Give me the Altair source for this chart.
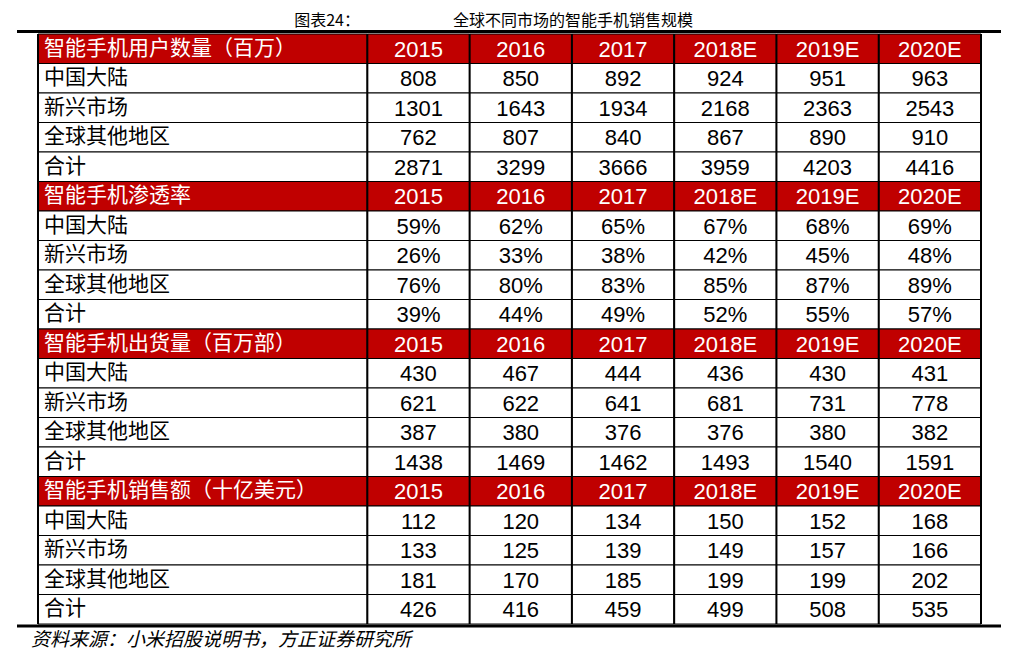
import altair as alt
import pandas as pd

years = ["2015", "2016", "2017", "2018E", "2019E", "2020E"]
section_titles = ["智能手机用户数量（百万）", "智能手机渗透率", "智能手机出货量（百万部）", "智能手机销售额（十亿美元）"]
regions = ["中国大陆", "新兴市场", "全球其他地区", "合计"]
users = [[808, 850, 892, 924, 951, 963],
         [1301, 1643, 1934, 2168, 2363, 2543],
         [762, 807, 840, 867, 890, 910],
         [2871, 3299, 3666, 3959, 4203, 4416]]
penetration = [[59, 62, 65, 67, 68, 69],
               [26, 33, 38, 42, 45, 48],
               [76, 80, 83, 85, 87, 89],
               [39, 44, 49, 52, 55, 57]]
shipments = [[430, 467, 444, 436, 430, 431],
             [621, 622, 641, 681, 731, 778],
             [387, 380, 376, 376, 380, 382],
             [1438, 1469, 1462, 1493, 1540, 1591]]
sales = [[112, 120, 134, 150, 152, 168],
         [133, 125, 139, 149, 157, 166],
         [181, 170, 185, 199, 199, 202],
         [426, 416, 459, 499, 508, 535]]
title_left = "图表24："
title_right = "全球不同市场的智能手机销售规模"
source_text = "资料来源：小米招股说明书，方正证券研究所"

# layout: relative column widths
col_w = [3.22] + [1.0] * 6
edges = [0.0]
for w in col_w:
    edges.append(edges[-1] + w)
total_w = edges[-1]

sections = [users, penetration, shipments, sales]
fmt = [lambda v: str(v), lambda v: f"{v}%", lambda v: str(v), lambda v: str(v)]

records = []
row = 0
for s, sec in enumerate(sections):
    cells = [section_titles[s]] + years
    for c, t in enumerate(cells):
        records.append(dict(row=row, col=c, kind="header", text=t))
    row += 1
    for r, reg in enumerate(regions):
        cells = [reg] + [fmt[s](v) for v in sec[r]]
        for c, t in enumerate(cells):
            records.append(dict(row=row, col=c, kind="data", text=t))
        row += 1
n_rows = row

df = pd.DataFrame(records)
df["x0"] = df["col"].map(lambda c: edges[c])
df["x1"] = df["col"].map(lambda c: edges[c + 1])
df["xm"] = (df["x0"] + df["x1"]) / 2
df["r0"] = df["row"]
df["r1"] = df["row"] + 1
df["ym"] = df["row"] + 0.5

W, H = 943, 590
xs = alt.Scale(domain=[0, total_w], nice=False, zero=False)
ys = alt.Scale(domain=[0, n_rows], nice=False, zero=False, reverse=True)

base = alt.Chart(df)

rects = base.mark_rect(stroke="black", strokeWidth=1).encode(
    x=alt.X("x0:Q", scale=xs, axis=None),
    x2="x1:Q",
    y=alt.Y("r0:Q", scale=ys, axis=None),
    y2="r1:Q",
    fill=alt.Fill("kind:N", scale=alt.Scale(domain=["header", "data"], range=["#C00000", "#FFFFFF"]), legend=None),
)

txt_color = alt.Color("kind:N", scale=alt.Scale(domain=["header", "data"], range=["#FFFFFF", "#000000"]), legend=None)

labels = base.transform_filter("datum.col == 0").mark_text(
    align="left", baseline="middle", dx=6, font="Noto Sans CJK SC", fontSize=21
).encode(x="x0:Q", y="ym:Q", text="text:N", color=txt_color)

nums = base.transform_filter("datum.col > 0").mark_text(
    align="center", baseline="middle", dy=1, font="Liberation Sans", fontSize=22
).encode(x="xm:Q", y="ym:Q", text="text:N", color=txt_color)

vdf = pd.DataFrame({"xb": edges})
vrules = alt.Chart(vdf).mark_rule(color="black", strokeWidth=2).encode(
    x="xb:Q", y=alt.value(0), y2=alt.value(H)
)

top_rule = alt.Chart(pd.DataFrame({"a": [0]})).mark_rule(color="black", strokeWidth=3).encode(
    x=alt.value(-21), x2=alt.value(963), y=alt.value(-2.5)
)
bottom_rule = alt.Chart(pd.DataFrame({"a": [0]})).mark_rule(color="black", strokeWidth=3).encode(
    x=alt.value(-21), x2=alt.value(963), y=alt.value(592)
)

t1 = alt.Chart(pd.DataFrame({"t": [title_left]})).mark_text(
    align="center", baseline="middle", font="Noto Sans CJK SC", fontSize=16, color="black"
).encode(text="t:N", x=alt.value(289), y=alt.value(-13))
t2 = alt.Chart(pd.DataFrame({"t": [title_right]})).mark_text(
    align="center", baseline="middle", font="Noto Sans CJK SC", fontSize=16, color="black"
).encode(text="t:N", x=alt.value(535), y=alt.value(-13))
src = alt.Chart(pd.DataFrame({"t": [source_text]})).mark_text(
    align="left", baseline="middle", font="Noto Sans CJK SC", fontSize=19, fontStyle="italic", color="black"
).encode(text="t:N", x=alt.value(-7), y=alt.value(606))

chart = alt.layer(rects, vrules, labels, nums, top_rule, bottom_rule, t1, t2, src).properties(
    width=W, height=H,
    autosize=alt.AutoSizeParams(type="none"),
    padding={"left": 30, "top": 26, "right": 20, "bottom": 35},
    background="white",
).configure_view(stroke=None)

chart.save("out.html", embed_options={"renderer": "svg", "actions": False})
